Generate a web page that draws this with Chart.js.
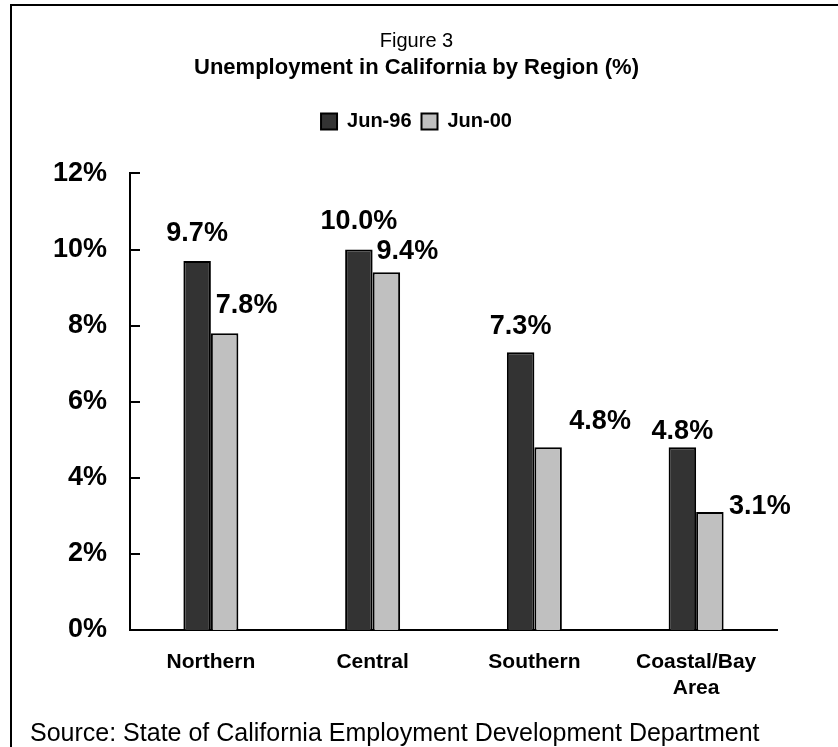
<!DOCTYPE html>
<html>
<head>
<meta charset="utf-8">
<title>Unemployment in California by Region</title>
<script src="https://cdn.jsdelivr.net/npm/chart.js@4.4.1/dist/chart.umd.min.js"></script>
<style>
  html, body { margin: 0; padding: 0; background: #fff; }
  #regionChart { display: block; }
</style>
</head>
<body>
<canvas id="regionChart" width="838" height="747"></canvas>
<script>
// Unemployment rate by region (%)
const regions = ['Northern', 'Central', 'Southern', ['Coastal/Bay', 'Area']];
const june1996 = [9.7, 10.0, 7.3, 4.8];
const june2000 = [7.8, 9.4, 4.8, 3.1];
const seriesNames = ['Jun-96', 'Jun-00'];
const yTicks = [0, 2, 4, 6, 8, 10, 12];

const FONT = '"Liberation Sans", Arial, sans-serif';

// Where each value label sits relative to the top of its bar
const labelPlacement = [
    { dx: [0, 0, 0, 0], gap: [20, 21, 18, 8] },
    { dx: [22, 21, 52, 50], gap: [20, 13, 18, -2] }
];

/**
 * Value labels above the bars
 */
const valueLabels = {
    id: 'valueLabels',
    afterDatasetsDraw(chart) {
        const ctx = chart.ctx;
        ctx.save();
        ctx.fillStyle = '#000';
        ctx.font = 'bold 27px ' + FONT;
        ctx.textAlign = 'center';
        ctx.textBaseline = 'alphabetic';
        chart.data.datasets.forEach((ds, i) => {
            const meta = chart.getDatasetMeta(i);
            const place = labelPlacement[i];
            meta.data.forEach((bar, j) => {
                const text = ds.data[j].toFixed(1) + '%';
                ctx.fillText(text, bar.x + place.dx[j], bar.y - place.gap[j]);
            });
        });
        ctx.restore();
    }
};

/**
 * Tick marks on the y axis point into the plot
 */
const innerTicks = {
    id: 'innerTicks',
    afterDraw(chart) {
        const y = chart.scales.y;
        const ctx = chart.ctx;
        ctx.save();
        ctx.strokeStyle = '#000';
        ctx.lineWidth = 2;
        y.ticks.forEach(t => {
            const py = Math.round(y.getPixelForValue(t.value));
            ctx.beginPath();
            ctx.moveTo(chart.chartArea.left, py);
            ctx.lineTo(chart.chartArea.left + 10, py);
            ctx.stroke();
        });
        ctx.restore();
    }
};

/**
 * Extra space under the legend
 */
const legendGap = {
    id: 'legendGap',
    afterInit(chart) {
        const legend = chart.legend;
        if (!legend) return;
        const fit = legend.fit;
        legend.fit = function () {
            fit.call(this);
            this.height += 32;
        };
    }
};

/**
 * Frame lines and source note
 */
const pageFrame = {
    id: 'pageFrame',
    afterDraw(chart) {
        const ctx = chart.ctx;
        ctx.save();
        ctx.strokeStyle = '#000';
        ctx.lineWidth = 2;
        ctx.beginPath();
        ctx.moveTo(11, 747);
        ctx.lineTo(11, 5);
        ctx.lineTo(838, 5);
        ctx.stroke();
        ctx.fillStyle = '#000';
        ctx.font = '25px ' + FONT;
        ctx.textAlign = 'left';
        ctx.textBaseline = 'alphabetic';
        ctx.fillText('Source: State of California Employment Development Department', 30, 741);
        ctx.restore();
    }
};

function initRegionChart() {
    const canvas = document.getElementById('regionChart');
    if (!canvas) {
        console.error('Chart canvas not found');
        return;
    }
    const ctx = canvas.getContext('2d');

    new Chart(ctx, {
        type: 'bar',
        data: {
            labels: regions,
            datasets: [{
                label: seriesNames[0],
                data: june1996,
                backgroundColor: '#333333',
                borderColor: '#000',
                borderWidth: 2
            }, {
                label: seriesNames[1],
                data: june2000,
                backgroundColor: '#c0c0c0',
                borderColor: '#000',
                borderWidth: 2
            }]
        },
        options: {
            responsive: false,
            animation: false,
            categoryPercentage: 0.34,
            barPercentage: 1.0,
            layout: {
                padding: { left: 34, right: 39, top: 0, bottom: 47 }
            },
            plugins: {
                title: {
                    display: true,
                    text: 'Figure 3',
                    color: '#000',
                    font: { family: FONT, size: 20, weight: 'normal', lineHeight: 1.2 },
                    padding: { top: 29, bottom: 2 }
                },
                subtitle: {
                    display: true,
                    text: 'Unemployment in California by Region (%)',
                    color: '#000',
                    font: { family: FONT, size: 22, weight: 'bold', lineHeight: 1.2 },
                    padding: { top: 0, bottom: 20 }
                },
                legend: {
                    position: 'top',
                    labels: {
                        boxWidth: 16,
                        boxHeight: 16,
                        padding: 10,
                        color: '#000',
                        font: { family: FONT, size: 20, weight: 'bold' }
                    }
                },
                tooltip: { enabled: false }
            },
            scales: {
                x: {
                    grid: { display: false, drawTicks: false },
                    border: { display: true, color: '#000', width: 2 },
                    ticks: {
                        color: '#000',
                        padding: 20,
                        maxRotation: 0,
                        font: { family: FONT, size: 21, weight: 'bold', lineHeight: 1.2 }
                    },
                    afterFit(scale) { scale.height = 70; }
                },
                y: {
                    min: 0,
                    max: 12,
                    grid: { display: false, drawTicks: false },
                    border: { display: true, color: '#000', width: 2 },
                    ticks: {
                        color: '#000',
                        padding: 23,
                        font: { family: FONT, size: 27, weight: 'bold' },
                        callback: value => value + '%'
                    },
                    afterBuildTicks(scale) {
                        scale.ticks = yTicks.map(v => ({ value: v }));
                    },
                    afterFit(scale) { scale.width = 96; }
                },
                // empty right-hand column so the plot ends short of the frame
                yPad: {
                    position: 'right',
                    grid: { display: false },
                    border: { display: false },
                    ticks: { display: false },
                    afterFit(scale) { scale.width = 22; }
                }
            }
        },
        plugins: [legendGap, valueLabels, innerTicks, pageFrame]
    });
}

document.addEventListener('DOMContentLoaded', initRegionChart);
</script>
</body>
</html>
